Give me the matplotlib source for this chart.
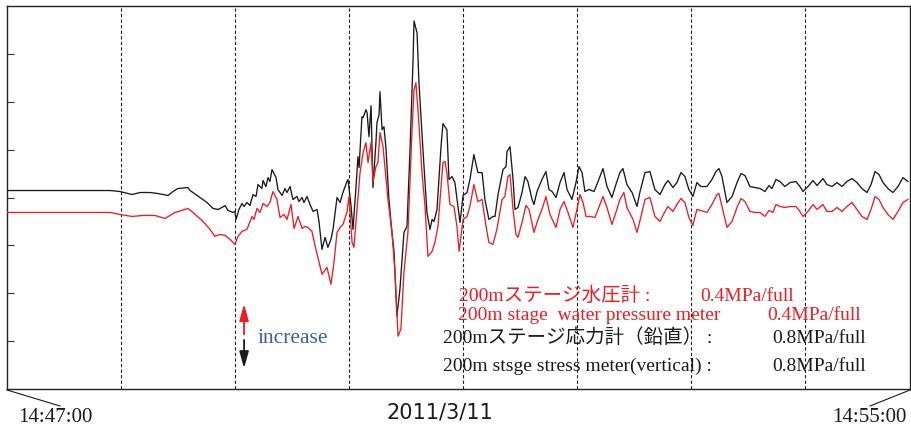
import matplotlib
matplotlib.use('Agg')
import matplotlib.pyplot as plt
from matplotlib.lines import Line2D

# ---------------- data (time in seconds from 14:47:00, value in arbitrary chart units) ----------------
black_t = [0, 54.2, 59.4, 65.8, 70.0, 75.2, 79.4, 84.7, 87.3, 89.9, 95.2, 96.3, 101.5, 105.2, 108.4, 111.0,
           113.1, 114.7, 116.2, 118.9, 119.9, 120.5, 122.0, 123.6, 124.7, 126.2, 127.8, 129.4, 131.0, 132.0,
           134.1, 134.7, 136.2, 137.3, 138.3, 139.4, 141.5, 142.5, 144.7, 146.2, 147.3, 148.9, 150.4, 152.5,
           153.6, 155.2, 156.2, 157.8, 159.4, 161.0, 163.1, 164.1, 165.7, 167.3, 168.8, 170.4, 171.5, 173.6,
           175.2, 176.7, 178.8, 179.4, 181.0, 182.0, 183.6, 184.6, 185.2, 186.7, 187.3, 188.8, 189.4, 190.4,
           191.5, 192.5, 194.1, 194.6, 195.7, 196.2, 197.3, 198.3, 199.4, 200.9, 202.5, 203.6, 205.1, 206.7,
           208.8, 210.4, 212.0, 213.6, 214.1, 215.7, 216.7, 218.8, 219.9, 220.9, 222.5, 223.6, 224.6, 226.2,
           228.3, 229.3, 231.4, 232.5, 234.1, 235.6, 237.2, 238.3, 239.9, 242.0, 243.5, 245.6, 247.7, 249.9,
           251.4, 253.5, 255.6, 256.7, 258.3, 260.9, 262.5, 263.0, 264.6, 266.2, 267.2, 268.8, 270.9, 272.5,
           274.0, 276.2, 277.2, 278.8, 281.4, 283.5, 285.1, 286.7, 288.8, 290.9, 293.0, 294.6, 297.2, 299.3,
           300.9, 302.5, 304.0, 306.1, 308.8, 310.9, 313.5, 315.6, 318.2, 320.3, 322.4, 324.0, 326.1, 328.8,
           331.4, 333.0, 335.6, 338.2, 340.8, 343.5, 346.1, 347.7, 350.3, 352.4, 354.5, 356.6, 358.7, 360.8,
           362.9, 365.0, 368.2, 370.8, 372.9, 374.5, 376.1, 378.7, 381.4, 384.0, 386.1, 388.2, 390.8, 393.4,
           396.1, 398.7, 400.8, 402.4, 404.5, 406.6, 409.2, 411.9, 415.0, 417.1, 418.7, 421.3, 424.0, 426.1,
           429.2, 431.3, 434.0, 436.6, 439.2, 441.8, 444.5, 447.1, 449.7, 452.4, 454.5, 456.6, 458.7, 460.8,
           463.4, 466.0, 468.7, 471.3, 473.9]
black_v = [199, 199, 198, 195, 197, 197, 196, 194, 198, 201, 202, 199, 192, 187, 181, 180,
           182, 184, 179, 177, 178, 170, 180, 186, 183, 187, 184, 195, 193, 205,
           201, 209, 203, 212, 208, 220, 212, 200, 194, 201, 197, 203, 190, 193,
           188, 192, 187, 193, 185, 178, 180, 168, 140, 152, 142, 150, 160, 192,
           187, 197, 208, 210, 183, 160, 203, 233, 222, 273, 272, 280, 277, 253,
           284, 202, 248, 267, 275, 298, 260, 263, 240, 190, 157, 137, 73, 100,
           157, 163, 240, 330, 369, 357, 307, 240, 207, 177, 160, 170, 168, 180,
           243, 266, 260, 210, 213, 207, 183, 167, 194, 197, 210, 235, 217, 217,
           190, 170, 173, 173, 195, 220, 223, 238, 243, 210, 180, 182, 197, 213,
           208, 190, 185, 198, 210, 218, 200, 198, 192, 207, 217, 200, 190, 207,
           223, 217, 198, 200, 198, 208, 221, 203, 192, 205, 217, 221, 205, 197,
           183, 198, 217, 218, 200, 195, 205, 209, 202, 207, 217, 213, 200, 193,
           207, 203, 203, 210, 218, 221, 213, 187, 193, 207, 216, 214, 203, 202,
           201, 198, 204, 201, 210, 208, 203, 207, 208, 203, 198, 203, 209, 204,
           211, 205, 203, 207, 203, 208, 211, 207, 201, 197, 205, 218, 215, 207,
           201, 197, 203, 212, 208]

red_t = [0, 54.2, 59.4, 65.8, 71.5, 77.8, 83.1, 88.4, 95.2, 97.8, 103.1, 106.8, 109.4, 112.0, 114.7,
         117.3, 119.9, 121.5, 123.6, 126.2, 128.9, 129.9, 131.5, 133.1, 134.7, 136.8, 138.3, 139.9, 142.0,
         143.6, 145.7, 147.3, 149.4, 151.0, 153.1, 155.2, 156.7, 158.3, 160.4, 162.5, 165.7, 168.3, 170.4,
         172.0, 173.6, 175.2, 176.7, 178.8, 179.9, 181.5, 182.5, 184.1, 185.7, 187.3, 188.8, 189.9, 191.5,
         192.5, 194.1, 195.1, 196.2, 197.8, 198.8, 200.4, 202.5, 204.1, 205.7, 207.2, 208.8, 210.9, 213.0,
         214.1, 215.1, 216.2, 218.3, 219.9, 221.4, 223.6, 225.1, 226.7, 229.3, 230.4, 231.4, 233.0, 235.1,
         236.7, 237.8, 239.9, 242.0, 243.5, 245.6, 247.7, 249.9, 252.0, 253.5, 255.6, 257.7, 260.4, 261.9,
         263.5, 264.6, 266.2, 267.7, 268.8, 270.9, 273.0, 274.6, 277.2, 278.8, 281.9, 283.5, 285.6, 288.8,
         290.9, 293.0, 295.1, 297.7, 299.8, 301.4, 303.0, 304.6, 306.7, 309.3, 310.9, 313.5, 315.6, 318.2,
         320.3, 322.4, 324.5, 326.1, 329.3, 331.4, 333.5, 335.6, 338.2, 340.8, 343.5, 346.1, 347.7, 350.3,
         352.4, 354.5, 356.6, 358.7, 360.8, 362.9, 365.0, 368.2, 370.8, 373.5, 374.5, 376.1, 378.7, 381.4,
         384.0, 386.1, 388.2, 390.8, 393.4, 396.1, 398.7, 400.8, 402.9, 404.5, 406.6, 409.2, 411.9, 415.0,
         417.1, 418.7, 421.3, 424.0, 426.1, 429.2, 431.3, 434.0, 436.6, 439.2, 441.8, 444.5, 447.1, 449.7,
         452.4, 454.5, 456.6, 458.7, 460.8, 463.4, 466.0, 468.7, 471.3, 473.9]
red_v = [177, 177, 175, 173, 174, 174, 171, 177, 181, 177, 168, 160, 153, 155, 154,
         150, 145, 153, 158, 160, 173, 170, 181, 177, 186, 183, 187, 198, 190,
         172, 175, 170, 185, 161, 173, 161, 163, 162, 158, 140, 115, 122, 105,
         127, 157, 162, 165, 177, 193, 147, 142, 180, 217, 237, 247, 227, 247,
         208, 223, 227, 257, 243, 223, 190, 157, 117, 53, 60, 117, 157, 257,
         300, 307, 280, 217, 183, 133, 138, 147, 163, 227, 228, 217, 185, 183,
         163, 138, 170, 173, 183, 205, 188, 190, 163, 147, 145, 160, 190, 193,
         213, 215, 180, 155, 152, 167, 184, 180, 157, 167, 183, 193, 175, 162,
         180, 188, 177, 162, 180, 195, 187, 173, 173, 172, 180, 193, 182, 165,
         177, 190, 197, 182, 170, 157, 173, 190, 192, 173, 168, 178, 183, 178,
         185, 191, 187, 172, 164, 180, 179, 177, 185, 195, 196, 183, 162, 168,
         182, 191, 188, 178, 177, 177, 173, 179, 177, 185, 183, 182, 183, 183,
         178, 173, 178, 185, 180, 185, 178, 178, 182, 178, 183, 187, 180, 173,
         170, 180, 193, 190, 182, 175, 170, 178, 187, 190]

grid_t = [60, 120, 180, 240, 300, 360, 420]
start_label = '14:47:00'
end_label = '14:55:00'
date_label = '2011/3/11'
red_lines = [('200mステージ水圧計 :', '0.4MPa/full'),
             ('200m stage  water pressure meter', '0.4MPa/full')]
black_lines = [('200mステージ応力計（鉛直） :', '0.8MPa/full'),
               ('200m stsge stress meter(vertical) :', '0.8MPa/full')]
arrow_label = 'increase'

# ---------------- figure ----------------
W, H = 911, 427
RED = '#ee1c24'
BLK = '#1a1a1a'
serif = ['Liberation Serif', 'Noto Sans CJK JP', 'DejaVu Serif']

fig = plt.figure(figsize=(W / 100, H / 100), dpi=100)
ax = fig.add_axes([7 / W, 1 - 390 / H, 903 / W, 383 / H])
ax.set_xlim(0, 475)
ax.set_ylim(0, 384)

for g in grid_t:
    ax.axvline(g, color='#222222', lw=0.8, linestyle=(0, (3, 2)), zorder=1)

ax.plot(black_t, black_v, color=BLK, lw=0.95, zorder=3)
ax.plot(red_t, red_v, color=RED, lw=0.95, zorder=4)

ax.set_xticks([])
ax.set_yticks([48 * k for k in range(1, 8)])
ax.set_yticklabels([])
ax.tick_params(axis='y', direction='in', length=5, width=0.8, color='#333333')
for s in ax.spines.values():
    s.set_linewidth(1.0)
    s.set_color('#222222')


def fx(px):
    return px / W


def fy(py):
    return 1 - py / H


# legend text blocks
fs = 14
kw = dict(fontsize=fs, family=serif, va='baseline', ha='left')
fig.text(fx(459), fy(301), red_lines[0][0], color=RED, **kw)
fig.text(fx(700), fy(301), red_lines[0][1], color=RED, **kw)
fig.text(fx(458), fy(320), red_lines[1][0], color=RED, **kw)
fig.text(fx(767), fy(320), red_lines[1][1], color=RED, **kw)
fig.text(fx(443), fy(343), black_lines[0][0], color=BLK, **kw)
fig.text(fx(772), fy(343), black_lines[0][1], color=BLK, **kw)
fig.text(fx(443), fy(371), black_lines[1][0], color=BLK, **kw)
fig.text(fx(772), fy(371), black_lines[1][1], color=BLK, **kw)

# increase arrow
ax.annotate('', xy=(124.7, 88), xytext=(124.7, 52),
            arrowprops=dict(arrowstyle='-|>,head_length=1.0,head_width=0.28', color=RED, lw=1.3), zorder=5)
ax.annotate('', xy=(124.7, 18), xytext=(124.7, 52),
            arrowprops=dict(arrowstyle='-|>,head_length=1.0,head_width=0.28', color=BLK, lw=1.3), zorder=5)
fig.text(fx(257), fy(343), arrow_label, color='#3a5da8', fontsize=15.5, family=serif, va='baseline', ha='left')

# bottom labels
fig.add_artist(Line2D([fx(7), fx(60)], [fy(391), fy(407)], color=BLK, lw=0.8, transform=fig.transFigure))
fig.add_artist(Line2D([fx(910), fx(870)], [fy(391), fy(407)], color=BLK, lw=0.8, transform=fig.transFigure))
fig.text(fx(18), fy(422), start_label, fontsize=15, family=serif, color=BLK, va='baseline', ha='left')
fig.text(fx(907), fy(422), end_label, fontsize=15, family=serif, color=BLK, va='baseline', ha='right')
fig.text(fx(439.5), fy(419), date_label, fontsize=15, family=['DejaVu Sans'], color=BLK,
         va='baseline', ha='center')

fig.savefig('out.png', dpi=100)
